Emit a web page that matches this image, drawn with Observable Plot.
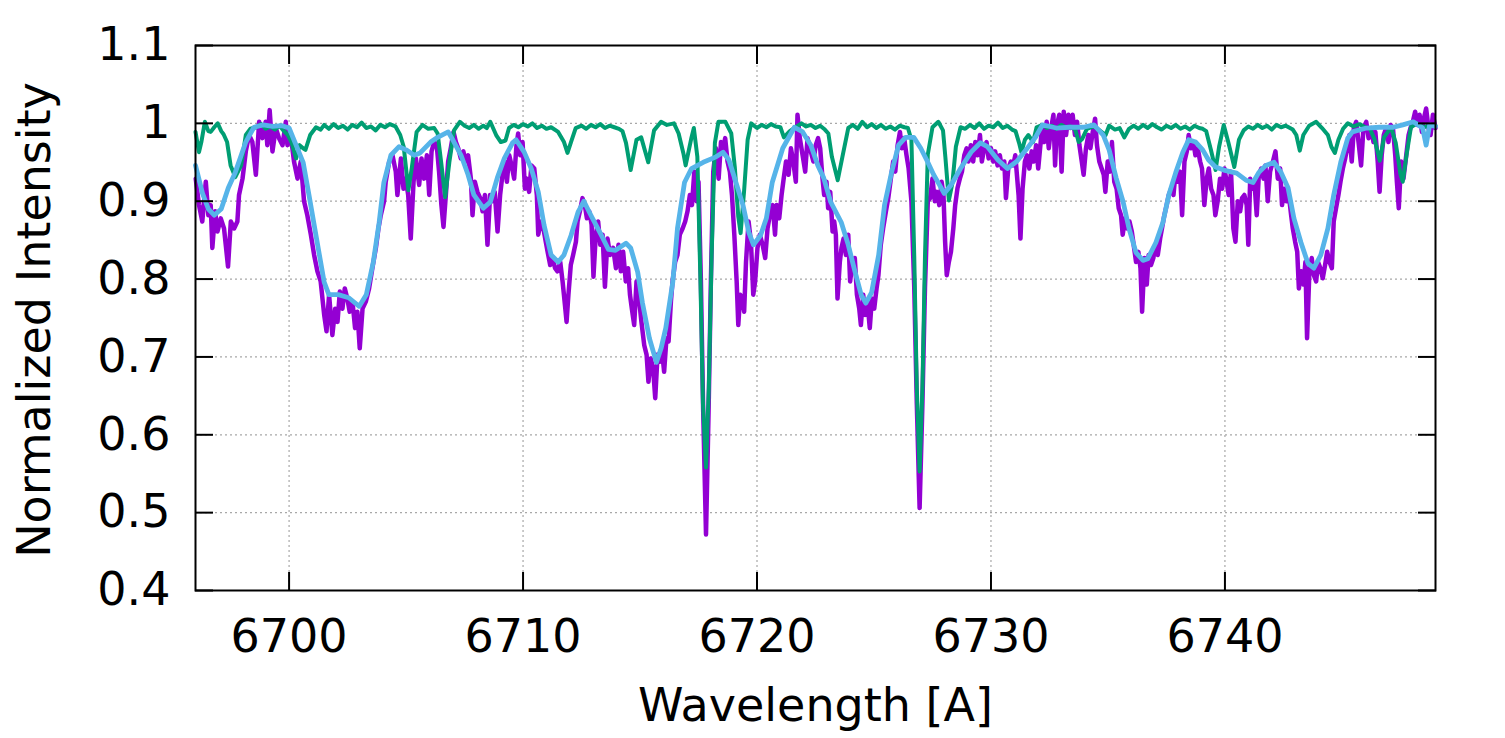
<!DOCTYPE html>
<html>
<head>
<meta charset="utf-8">
<script src="https://cdn.jsdelivr.net/npm/d3@7"></script>
<script src="https://cdn.jsdelivr.net/npm/@observablehq/plot@0.6"></script>
<style>
  html, body { margin: 0; padding: 0; background: #fff; }
  #chart { width: 1505px; height: 738px; }
</style>
</head>
<body>
<div id="chart"></div>
<script>
// Observed spectrum: [wavelength (Å), normalized intensity]
const observed = [
  [6696.01,0.929],[6696.15,0.895],[6696.29,0.874],[6696.44,0.925],[6696.55,0.882],[6696.65,0.895],[6696.72,0.84],
  [6696.84,0.887],[6696.94,0.861],[6697.08,0.878],[6697.22,0.865],[6697.39,0.816],[6697.51,0.874],[6697.65,0.865],
  [6697.79,0.874],[6697.86,0.908],[6698.01,0.929],[6698.15,0.964],[6698.29,0.985],[6698.43,0.976],[6698.58,0.934],
  [6698.72,1.002],[6698.86,0.981],[6699.00,1.002],[6699.07,0.972],[6699.17,1.017],[6699.29,0.964],[6699.43,0.994],
  [6699.57,0.981],[6699.72,0.972],[6699.86,1.002],[6699.93,0.972],[6700.07,0.985],[6700.21,0.951],[6700.36,0.929],
  [6700.5,0.951],[6700.64,0.9],[6700.78,0.882],[6700.93,0.857],[6701.07,0.831],[6701.21,0.81],[6701.35,0.797],
  [6701.5,0.754],[6701.6,0.733],[6701.71,0.78],[6701.85,0.728],[6701.97,0.762],[6702.07,0.745],[6702.17,0.784],
  [6702.28,0.762],[6702.38,0.788],[6702.49,0.775],[6702.59,0.758],[6702.71,0.771],[6702.82,0.737],[6702.92,0.758],
  [6703.02,0.711],[6703.14,0.762],[6703.28,0.771],[6703.42,0.788],[6703.56,0.814],[6703.71,0.84],[6703.82,0.865],
  [6703.92,0.882],[6704.06,0.9],[6704.13,0.925],[6704.28,0.951],[6704.42,0.959],[6704.56,0.938],[6704.63,0.908],
  [6704.78,0.955],[6704.89,0.916],[6704.99,0.929],[6705.09,0.908],[6705.2,0.852],[6705.32,0.925],[6705.42,0.955],
  [6705.56,0.921],[6705.66,0.955],[6705.77,0.929],[6705.89,0.959],[6705.99,0.908],[6706.09,0.964],[6706.2,0.976],
  [6706.31,0.972],[6706.41,0.938],[6706.51,0.895],[6706.6,0.867],[6706.7,0.908],[6706.8,0.951],[6706.91,0.968],
  [6707.03,0.989],[6707.13,0.976],[6707.23,0.968],[6707.34,0.955],[6707.45,0.964],[6707.55,0.951],[6707.65,0.959],
  [6707.77,0.929],[6707.84,0.882],[6707.94,0.925],[6708.05,0.912],[6708.17,0.904],[6708.27,0.887],[6708.37,0.908],
  [6708.48,0.844],[6708.59,0.908],[6708.69,0.9],[6708.79,0.912],[6708.91,0.861],[6709.02,0.908],[6709.12,0.934],
  [6709.22,0.951],[6709.31,0.925],[6709.41,0.959],[6709.51,0.946],[6709.62,0.929],[6709.72,0.972],[6709.79,0.987],
  [6709.88,0.959],[6709.98,0.976],[6710.08,0.916],[6710.16,0.929],[6710.26,0.912],[6710.36,0.946],[6710.48,0.942],
  [6710.59,0.908],[6710.65,0.857],[6710.76,0.874],[6710.87,0.865],[6710.97,0.848],[6711.05,0.835],[6711.16,0.818],
  [6711.26,0.827],[6711.37,0.814],[6711.47,0.81],[6711.59,0.822],[6711.69,0.797],[6711.79,0.767],[6711.86,0.745],
  [6711.94,0.78],[6712.04,0.818],[6712.14,0.831],[6712.26,0.848],[6712.33,0.874],[6712.43,0.887],[6712.54,0.904],
  [6712.64,0.895],[6712.73,0.878],[6712.83,0.887],[6712.93,0.87],[6713.01,0.803],[6713.11,0.857],[6713.21,0.874],
  [6713.3,0.844],[6713.4,0.857],[6713.5,0.79],[6713.61,0.852],[6713.72,0.831],[6713.85,0.84],[6713.97,0.814],
  [6714.08,0.844],[6714.18,0.81],[6714.28,0.835],[6714.39,0.797],[6714.49,0.814],[6714.57,0.78],[6714.65,0.762],
  [6714.75,0.741],[6714.85,0.797],[6714.97,0.771],[6715.06,0.745],[6715.18,0.715],[6715.28,0.703],[6715.36,0.668],
  [6715.46,0.698],[6715.56,0.685],[6715.65,0.647],[6715.75,0.703],[6715.85,0.694],[6715.93,0.711],[6716.03,0.681],
  [6716.13,0.724],[6716.22,0.72],[6716.32,0.771],[6716.39,0.797],[6716.5,0.822],[6716.6,0.831],[6716.7,0.857],
  [6716.82,0.865],[6716.93,0.874],[6717.03,0.887],[6717.13,0.908],[6717.22,0.895],[6717.32,0.938],[6717.42,0.9],
  [6717.5,0.925],[6717.6,0.8],[6717.7,0.63],[6717.82,0.472],[6717.93,0.63],[6718.03,0.8],[6718.13,0.938],
  [6718.24,0.968],[6718.36,0.929],[6718.46,0.976],[6718.56,0.968],[6718.64,0.981],[6718.74,0.951],[6718.84,0.938],
  [6718.93,0.908],[6719.03,0.857],[6719.13,0.797],[6719.2,0.741],[6719.28,0.78],[6719.38,0.775],[6719.45,0.758],
  [6719.53,0.822],[6719.64,0.874],[6719.74,0.848],[6719.84,0.78],[6719.92,0.797],[6720.02,0.84],[6720.12,0.857],
  [6720.24,0.844],[6720.35,0.827],[6720.45,0.865],[6720.55,0.882],[6720.67,0.895],[6720.77,0.857],[6720.84,0.895],
  [6720.95,0.878],[6721.05,0.908],[6721.14,0.929],[6721.24,0.951],[6721.35,0.934],[6721.45,0.968],[6721.55,0.951],
  [6721.66,0.925],[6721.73,1.011],[6721.83,0.981],[6721.95,0.959],[6722.06,0.938],[6722.16,0.981],[6722.26,0.968],
  [6722.41,0.951],[6722.51,0.972],[6722.61,0.981],[6722.7,0.968],[6722.8,0.929],[6722.87,0.908],[6722.97,0.925],
  [6723.04,0.891],[6723.13,0.912],[6723.23,0.861],[6723.3,0.874],[6723.37,0.857],[6723.44,0.775],[6723.54,0.822],
  [6723.61,0.84],[6723.7,0.852],[6723.8,0.831],[6723.9,0.857],[6723.98,0.797],[6724.08,0.822],[6724.18,0.827],
  [6724.27,0.78],[6724.37,0.762],[6724.44,0.741],[6724.54,0.78],[6724.62,0.754],[6724.72,0.771],[6724.82,0.737],
  [6724.91,0.775],[6725.01,0.762],[6725.11,0.788],[6725.19,0.805],[6725.29,0.844],[6725.39,0.865],[6725.51,0.887],
  [6725.61,0.904],[6725.72,0.929],[6725.82,0.951],[6725.91,0.938],[6726.01,0.972],[6726.11,0.989],[6726.19,0.968],
  [6726.29,0.981],[6726.39,0.959],[6726.48,0.942],[6726.6,0.9],[6726.72,0.79],[6726.83,0.64],[6726.95,0.506],
  [6727.07,0.64],[6727.18,0.79],[6727.3,0.9],[6727.4,0.904],[6727.5,0.929],[6727.6,0.9],[6727.69,0.912],
  [6727.79,0.895],[6727.89,0.925],[6727.97,0.908],[6728.04,0.848],[6728.11,0.805],[6728.2,0.822],[6728.29,0.835],
  [6728.39,0.865],[6728.47,0.895],[6728.57,0.917],[6728.67,0.929],[6728.76,0.938],[6728.86,0.959],[6728.96,0.968],
  [6729.04,0.951],[6729.14,0.972],[6729.24,0.951],[6729.33,0.976],[6729.43,0.959],[6729.53,0.985],[6729.61,0.951],
  [6729.71,0.968],[6729.81,0.976],[6729.9,0.955],[6730.0,0.968],[6730.1,0.951],[6730.18,0.964],[6730.28,0.946],
  [6730.38,0.959],[6730.47,0.942],[6730.57,0.951],[6730.64,0.904],[6730.74,0.942],[6730.85,0.951],[6730.95,0.946],
  [6731.04,0.959],[6731.18,0.908],[6731.26,0.852],[6731.35,0.916],[6731.45,0.951],[6731.54,0.959],[6731.64,0.942],
  [6731.74,0.964],[6731.83,0.951],[6731.93,0.972],[6732.02,0.942],[6732.1,0.968],[6732.18,0.994],[6732.28,0.976],
  [6732.38,1.002],[6732.47,0.968],[6732.57,0.994],[6732.67,1.011],[6732.74,0.946],[6732.82,0.998],[6732.92,1.011],
  [6733.02,0.938],[6733.11,1.015],[6733.21,0.985],[6733.31,1.011],[6733.39,0.994],[6733.49,1.011],[6733.59,0.985],
  [6733.68,1.002],[6733.78,0.972],[6733.88,0.951],[6733.96,0.934],[6734.06,0.968],[6734.16,0.985],[6734.25,0.968],
  [6734.35,0.989],[6734.45,1.006],[6734.53,0.972],[6734.63,0.951],[6734.73,0.942],[6734.82,0.934],[6734.89,0.912],
  [6734.99,0.951],[6735.09,0.938],[6735.17,0.976],[6735.27,0.925],[6735.37,0.916],[6735.46,0.891],[6735.56,0.882],
  [6735.63,0.857],[6735.73,0.878],[6735.82,0.865],[6735.92,0.874],[6736.02,0.861],[6736.1,0.844],[6736.2,0.822],
  [6736.3,0.835],[6736.39,0.814],[6736.46,0.758],[6736.56,0.827],[6736.66,0.793],[6736.74,0.831],[6736.84,0.818],
  [6736.94,0.827],[6737.03,0.844],[6737.13,0.831],[6737.23,0.852],[6737.31,0.865],[6737.41,0.882],[6737.51,0.895],
  [6737.6,0.908],[6737.7,0.916],[6737.8,0.908],[6737.88,0.934],[6737.98,0.925],[6738.08,0.938],[6738.17,0.882],
  [6738.27,0.951],[6738.37,0.964],[6738.45,0.985],[6738.55,0.968],[6738.65,0.976],[6738.74,0.959],[6738.84,0.968],
  [6738.94,0.951],[6739.02,0.942],[6739.12,0.895],[6739.22,0.929],[6739.31,0.942],[6739.41,0.916],[6739.51,0.908],
  [6739.59,0.882],[6739.69,0.9],[6739.79,0.929],[6739.88,0.916],[6739.98,0.942],[6740.05,0.929],[6740.16,0.908],
  [6740.26,0.938],[6740.36,0.865],[6740.45,0.848],[6740.55,0.9],[6740.65,0.887],[6740.73,0.904],[6740.83,0.908],
  [6740.93,0.895],[6741.0,0.844],[6741.08,0.929],[6741.16,0.916],[6741.26,0.925],[6741.36,0.882],[6741.45,0.934],
  [6741.55,0.942],[6741.65,0.929],[6741.73,0.946],[6741.83,0.9],[6741.93,0.938],[6742.05,0.951],[6742.16,0.964],
  [6742.26,0.929],[6742.36,0.942],[6742.44,0.895],[6742.54,0.916],[6742.64,0.9],[6742.73,0.908],[6742.83,0.882],
  [6742.9,0.865],[6743.0,0.848],[6743.09,0.835],[6743.16,0.788],[6743.26,0.81],[6743.36,0.793],[6743.44,0.822],
  [6743.51,0.724],[6743.61,0.81],[6743.71,0.827],[6743.8,0.805],[6743.9,0.797],[6743.98,0.822],[6744.08,0.814],
  [6744.18,0.801],[6744.28,0.818],[6744.37,0.835],[6744.47,0.822],[6744.57,0.814],[6744.65,0.874],[6744.75,0.891],
  [6744.85,0.908],[6744.94,0.925],[6745.04,0.942],[6745.14,0.955],[6745.22,0.968],[6745.32,0.985],[6745.42,0.951],
  [6745.51,0.994],[6745.61,1.002],[6745.71,0.976],[6745.82,0.946],[6745.92,0.994],[6746.04,1.002],[6746.14,0.981],
  [6746.25,0.994],[6746.35,0.976],[6746.43,0.989],[6746.53,0.951],[6746.61,0.912],[6746.7,0.959],[6746.79,0.985],
  [6746.89,0.994],[6746.99,0.976],[6747.08,0.998],[6747.18,0.994],[6747.28,0.959],[6747.35,0.925],[6747.43,0.891],
  [6747.53,0.951],[6747.63,0.929],[6747.75,0.959],[6747.85,0.985],[6747.93,0.994],[6748.03,1.002],[6748.13,1.015],
  [6748.22,0.998],[6748.32,1.011],[6748.42,0.989],[6748.5,1.006],[6748.6,1.019],[6748.7,0.994],[6748.79,0.985],
  [6748.89,1.011],[6749.0,0.994]
];

// Telluric transmission: [wavelength (Å), normalized intensity]
const telluric = [
  [6696.0,0.989],[6696.15,0.963],[6696.25,0.976],[6696.4,1.002],[6696.55,0.99],[6696.65,0.989],[6696.8,0.995],
  [6696.95,1.0],[6697.1,0.99],[6697.2,0.986],[6697.35,0.976],[6697.5,0.946],[6697.7,0.931],[6697.85,0.94],
  [6697.95,0.946],[6698.15,0.985],[6698.35,0.993],[6698.6,0.995],[6698.8,0.999],[6699.0,0.993],[6699.2,0.996],
  [6699.4,0.992],[6699.6,0.997],[6699.75,0.991],[6699.95,0.985],[6700.1,0.976],[6700.3,0.955],[6700.45,0.972],
  [6700.6,0.968],[6700.7,0.966],[6700.9,0.985],[6701.15,0.995],[6701.35,0.992],[6701.5,0.998],[6701.7,0.993],
  [6701.9,0.999],[6702.1,0.994],[6702.3,0.997],[6702.5,0.992],[6702.7,0.998],[6702.9,0.995],[6703.1,1.001],
  [6703.3,0.994],[6703.5,0.996],[6703.7,0.991],[6703.9,0.998],[6704.1,0.995],[6704.3,0.999],[6704.55,0.996],
  [6704.75,0.985],[6704.9,0.97],[6705.1,0.914],[6705.25,0.944],[6705.45,0.989],[6705.7,0.998],[6705.95,0.993],
  [6706.2,0.994],[6706.35,0.987],[6706.5,0.95],[6706.67,0.905],[6706.85,0.95],[6707.05,0.991],[6707.3,1.002],
  [6707.5,0.997],[6707.7,0.994],[6707.9,0.998],[6708.1,0.993],[6708.3,0.997],[6708.45,0.994],[6708.6,1.002],
  [6708.85,0.985],[6709.05,0.976],[6709.25,0.978],[6709.4,0.994],[6709.6,0.998],[6709.8,0.995],[6710.0,0.999],
  [6710.2,0.996],[6710.4,1.0],[6710.6,0.994],[6710.8,0.997],[6711.0,0.993],[6711.2,0.995],[6711.5,0.989],
  [6711.75,0.976],[6711.9,0.962],[6712.05,0.976],[6712.25,0.994],[6712.5,0.997],[6712.7,0.993],[6712.9,0.998],
  [6713.1,0.995],[6713.3,0.999],[6713.5,0.994],[6713.7,0.997],[6713.9,0.995],[6714.1,0.993],[6714.25,0.99],
  [6714.4,0.975],[6714.6,0.94],[6714.85,0.979],[6715.05,0.982],[6715.35,0.95],[6715.6,0.991],[6715.9,1.002],
  [6716.15,0.998],[6716.45,1.0],[6716.65,0.987],[6716.85,0.962],[6716.95,0.946],[6717.2,0.982],[6717.3,0.994],
  [6717.45,0.957],[6717.58,0.8],[6717.69,0.64],[6717.82,0.558],[6717.94,0.66],[6718.06,0.83],[6718.2,0.975],
  [6718.35,1.002],[6718.65,1.002],[6718.9,0.987],[6719.05,0.944],[6719.2,0.88],[6719.3,0.859],[6719.45,0.914],
  [6719.6,0.979],[6719.75,1.0],[6720.0,0.994],[6720.2,0.998],[6720.4,0.995],[6720.6,0.999],[6720.8,0.996],
  [6721.0,0.995],[6721.15,0.982],[6721.4,0.99],[6721.6,0.994],[6721.9,1.0],[6722.1,0.996],[6722.3,0.998],
  [6722.5,0.994],[6722.7,0.997],[6722.9,0.992],[6723.05,0.987],[6723.2,0.957],[6723.45,0.927],[6723.65,0.957],
  [6723.9,0.994],[6724.1,0.998],[6724.3,0.993],[6724.5,1.002],[6724.7,0.995],[6724.9,0.999],[6725.1,0.994],
  [6725.3,0.998],[6725.5,0.993],[6725.7,0.996],[6725.9,0.992],[6726.1,0.997],[6726.3,0.995],[6726.45,0.994],
  [6726.6,0.979],[6726.72,0.83],[6726.83,0.66],[6726.95,0.553],[6727.07,0.66],[6727.18,0.83],[6727.3,0.96],
  [6727.5,0.995],[6727.75,1.002],[6727.95,0.991],[6728.05,0.957],[6728.2,0.901],[6728.35,0.923],[6728.5,0.97],
  [6728.7,0.995],[6728.9,0.993],[6729.1,0.998],[6729.3,0.994],[6729.5,1.0],[6729.7,0.993],[6729.9,0.997],
  [6730.1,0.995],[6730.3,1.001],[6730.5,0.994],[6730.7,0.997],[6730.9,0.992],[6731.05,0.99],[6731.2,0.975],
  [6731.3,0.963],[6731.45,0.979],[6731.6,0.985],[6731.8,0.976],[6731.95,0.995],[6732.2,0.998],[6732.4,0.994],
  [6732.6,0.997],[6732.8,0.993],[6733.0,0.998],[6733.2,0.995],[6733.4,0.996],[6733.6,0.992],[6733.75,0.976],
  [6733.9,0.98],[6734.1,0.993],[6734.4,0.996],[6734.6,0.992],[6734.9,0.985],[6735.05,0.997],[6735.3,0.992],
  [6735.5,0.994],[6735.7,0.982],[6735.9,0.993],[6736.1,0.997],[6736.3,0.993],[6736.5,0.998],[6736.7,0.994],
  [6736.9,0.999],[6737.1,0.995],[6737.3,0.992],[6737.5,0.997],[6737.7,0.994],[6737.9,0.998],[6738.1,0.993],
  [6738.3,0.996],[6738.5,0.992],[6738.7,0.997],[6738.9,0.994],[6739.05,0.993],[6739.2,0.99],[6739.4,0.966],
  [6739.6,0.94],[6739.75,0.97],[6739.95,0.998],[6740.15,0.975],[6740.4,0.944],[6740.6,0.979],[6740.8,0.991],
  [6741.0,0.996],[6741.2,0.993],[6741.4,0.998],[6741.6,0.994],[6741.8,0.997],[6742.0,0.992],[6742.2,0.998],
  [6742.4,0.995],[6742.6,0.997],[6742.9,0.992],[6743.05,0.985],[6743.2,0.965],[6743.35,0.985],[6743.6,0.997],
  [6743.9,1.002],[6744.15,0.994],[6744.4,0.985],[6744.55,0.97],[6744.7,0.962],[6744.85,0.979],[6745.05,0.993],
  [6745.25,1.0],[6745.5,0.996],[6745.75,0.999],[6746.0,0.995],[6746.2,0.993],[6746.4,0.979],[6746.62,0.952],
  [6746.8,0.982],[6747.1,0.995],[6747.3,0.975],[6747.5,0.935],[6747.6,0.925],[6747.75,0.957],[6747.95,0.995],
  [6748.2,1.0],[6748.5,0.995],[6748.8,0.998],[6749.0,0.997]
];

// Smoothed model spectrum: [wavelength (Å), normalized intensity]
const smoothed = [
  [6696.0,0.946],[6696.3,0.91],[6696.55,0.89],[6696.8,0.882],[6697.1,0.89],[6697.4,0.917],[6697.7,0.937],
  [6698.15,0.976],[6698.5,0.995],[6698.9,0.998],[6699.3,0.996],[6699.7,0.997],[6700.0,0.994],[6700.3,0.972],
  [6700.6,0.95],[6700.85,0.908],[6701.15,0.856],[6701.5,0.796],[6701.7,0.78],[6702.1,0.78],[6702.55,0.776],
  [6703.0,0.765],[6703.3,0.78],[6703.6,0.822],[6703.85,0.873],[6704.05,0.924],[6704.35,0.959],[6704.7,0.97],
  [6705.0,0.966],[6705.35,0.959],[6705.6,0.962],[6706.05,0.976],[6706.35,0.982],[6706.8,0.989],[6707.05,0.976],
  [6707.35,0.959],[6707.65,0.934],[6707.9,0.908],[6708.3,0.891],[6708.6,0.899],[6708.9,0.93],[6709.2,0.955],
  [6709.55,0.975],[6709.7,0.979],[6710.05,0.963],[6710.35,0.942],[6710.65,0.912],[6710.9,0.869],[6711.2,0.831],
  [6711.5,0.822],[6711.75,0.831],[6712.05,0.856],[6712.35,0.886],[6712.6,0.9],[6712.9,0.882],[6713.35,0.856],
  [6713.65,0.838],[6713.95,0.837],[6714.4,0.846],[6714.6,0.84],[6714.9,0.809],[6715.1,0.77],[6715.4,0.724],
  [6715.7,0.693],[6715.9,0.711],[6716.1,0.737],[6716.4,0.796],[6716.6,0.865],[6716.9,0.924],[6717.2,0.942],
  [6717.7,0.95],[6718.25,0.957],[6718.55,0.963],[6718.8,0.953],[6719.1,0.924],[6719.4,0.895],[6719.65,0.86],
  [6719.85,0.844],[6720.15,0.856],[6720.4,0.878],[6720.65,0.924],[6721.1,0.968],[6721.6,0.995],[6721.95,0.989],
  [6722.3,0.972],[6722.6,0.946],[6722.85,0.93],[6723.15,0.899],[6723.6,0.873],[6723.9,0.844],[6724.15,0.814],
  [6724.45,0.78],[6724.65,0.769],[6724.9,0.783],[6725.2,0.831],[6725.45,0.895],[6725.75,0.937],[6726.05,0.972],
  [6726.35,0.982],[6726.7,0.982],[6727.0,0.968],[6727.3,0.95],[6727.55,0.934],[6727.8,0.921],[6728.0,0.91],
  [6728.3,0.921],[6728.7,0.942],[6729.15,0.963],[6729.55,0.975],[6729.85,0.97],[6730.3,0.953],[6730.7,0.942],
  [6731.1,0.951],[6731.5,0.966],[6731.9,0.982],[6732.2,0.998],[6732.8,0.994],[6733.35,0.995],[6733.95,0.995],
  [6734.4,0.998],[6734.8,0.985],[6735.05,0.966],[6735.35,0.93],[6735.65,0.899],[6735.9,0.865],[6736.2,0.834],
  [6736.5,0.824],[6736.7,0.826],[6737.05,0.847],[6737.35,0.873],[6737.6,0.908],[6737.9,0.937],[6738.2,0.963],
  [6738.45,0.979],[6738.75,0.976],[6739.05,0.966],[6739.3,0.953],[6739.6,0.944],[6739.95,0.94],[6740.5,0.936],
  [6740.9,0.927],[6741.2,0.924],[6741.45,0.937],[6741.75,0.946],[6742.1,0.95],[6742.4,0.937],[6742.7,0.917],
  [6742.95,0.878],[6743.25,0.847],[6743.55,0.82],[6743.8,0.814],[6744.1,0.831],[6744.4,0.865],[6744.65,0.908],
  [6744.95,0.95],[6745.25,0.981],[6745.45,0.989],[6746.05,0.994],[6746.6,0.995],[6747.2,0.995],[6747.6,0.998],
  [6748.05,1.002],[6748.45,0.994],[6748.6,0.972],[6748.75,0.998],[6749.0,0.996]
];

const xTicks = [6700, 6710, 6720, 6730, 6740];
const yTicks = [0.4, 0.5, 0.6, 0.7, 0.8, 0.9, 1, 1.1];
const xTitle = "Wavelength [A]";
const yTitle = "Normalized Intensity";

const rows = pairs => pairs.map(([w, v]) => ({w, v}));
const FONT = 46;
const tickStyle = {tickSize: -18, strokeWidth: 2, fill: "none", label: null};

const chart = Plot.plot({
  width: 1505,
  height: 738,
  marginLeft: 195,
  marginRight: 70,
  marginTop: 45,
  marginBottom: 148,
  style: {fontFamily: "'DejaVu Sans', sans-serif", fontSize: FONT + "px", color: "black", background: "white"},
  x: {domain: [6696, 6749]},
  y: {domain: [0.4, 1.1]},
  marks: [
    // dotted grid
    Plot.gridX(xTicks, {stroke: "#a8a8a8", strokeOpacity: 1, strokeWidth: 1.2, strokeDasharray: "2,3"}),
    Plot.gridY(yTicks, {stroke: "#a8a8a8", strokeOpacity: 1, strokeWidth: 1.2, strokeDasharray: "2,3"}),
    // spectra
    Plot.line(rows(observed), {x: "w", y: "v", stroke: "#9400d3", strokeWidth: 4.5, strokeLinejoin: "round"}),
    Plot.line(rows(telluric), {x: "w", y: "v", stroke: "#009e73", strokeWidth: 4, strokeLinejoin: "round"}),
    Plot.line(rows(smoothed), {x: "w", y: "v", stroke: "#56b4e9", strokeWidth: 4.8, strokeLinejoin: "round"}),
    // border with inward ticks on all four sides
    Plot.frame({stroke: "black", strokeWidth: 2}),
    Plot.axisX(xTicks, {anchor: "bottom", ...tickStyle}),
    Plot.axisX(xTicks, {anchor: "top", ...tickStyle}),
    Plot.axisY(yTicks, {anchor: "left", ...tickStyle}),
    Plot.axisY(yTicks, {anchor: "right", ...tickStyle}),
    // tick labels
    Plot.axisX(xTicks, {anchor: "bottom", tickSize: 0, tickPadding: 29, fontSize: FONT, label: null, tickFormat: d => String(d)}),
    Plot.axisY(yTicks, {anchor: "left", tickSize: 0, tickPadding: 25, fontSize: FONT, label: null, tickFormat: d => String(d)}),
    // axis titles
    Plot.text([xTitle], {text: d => d, frameAnchor: "bottom", textAnchor: "middle", lineAnchor: "middle", dy: 116, fontSize: FONT, fill: "black"}),
    Plot.text([yTitle], {text: d => d, frameAnchor: "left", textAnchor: "middle", lineAnchor: "middle", rotate: -90, dx: -160, dy: 2, fontSize: FONT, fill: "black"})
  ]
});

document.getElementById("chart").appendChild(chart);
</script>
</body>
</html>
